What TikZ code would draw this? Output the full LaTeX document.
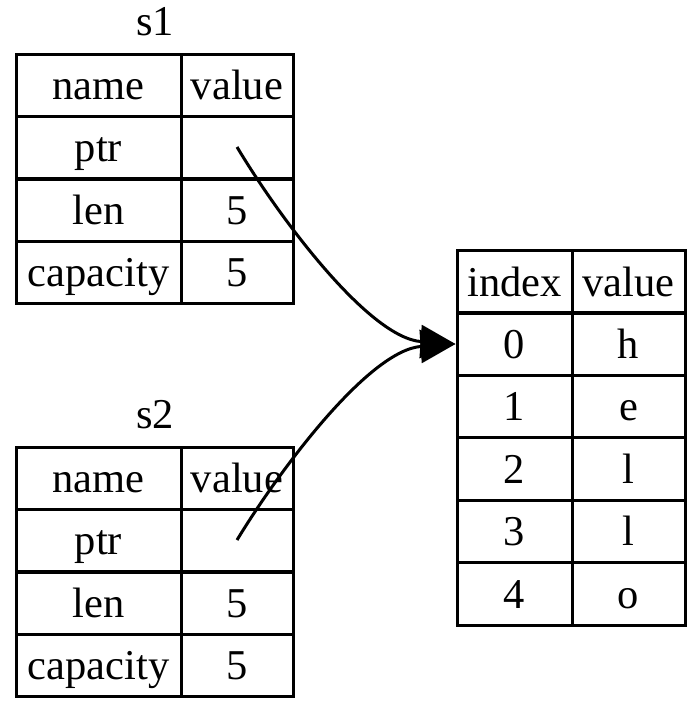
\documentclass[tikz,border=0pt]{standalone}
\usepackage{fontspec}
\setmainfont{Liberation Serif}
\usetikzlibrary{arrows.meta}
\begin{document}
\begin{tikzpicture}[x=1pt,y=-1pt,
  txt/.style={inner sep=0pt,font=\fontsize{42.5}{50}\selectfont},
  cell/.style={txt,draw,line width=3pt,minimum height=62pt,text height=28pt,text depth=0pt},
  namecol/.style={cell,minimum width=165pt},
  valcol/.style={cell,minimum width=112pt},
  idxcol/.style={cell,minimum width=115pt,minimum height=62.5pt},
  hvcol/.style={cell,minimum width=113pt,minimum height=62.5pt},
  ptrarrow/.style={line width=3pt,-{Triangle[length=35pt,width=33pt]}}]
\useasboundingbox (0,0) rectangle (694,704);
% s1
\node[txt,anchor=base] (t1) at (155,35) {s1};
\node[namecol] (s1n0) at (98.5,85) {name};
\node[valcol]  (s1v0) at (237,85) {value};
\node[namecol] (s1n1) at (98.5,147) {ptr};
\node[valcol]  (s1v1) at (237,147) {};
\node[namecol] (s1n2) at (98.5,210) {len};
\node[valcol]  (s1v2) at (237,210) {5};
\node[namecol] (s1n3) at (98.5,272) {capacity};
\node[valcol]  (s1v3) at (237,272) {5};
% s2
\node[txt,anchor=base] (t2) at (155,428) {s2};
\node[namecol] (s2n0) at (98.5,478) {name};
\node[valcol]  (s2v0) at (237,478) {value};
\node[namecol] (s2n1) at (98.5,540) {ptr};
\node[valcol]  (s2v1) at (237,540) {};
\node[namecol] (s2n2) at (98.5,603) {len};
\node[valcol]  (s2v2) at (237,603) {5};
\node[namecol] (s2n3) at (98.5,665) {capacity};
\node[valcol]  (s2v3) at (237,665) {5};
% heap
\node[idxcol] (hi) at (514.5,282) {index};
\node[hvcol]  (hv) at (628.5,282) {value};
\node[idxcol] (i0) at (514.5,344) {0};
\node[hvcol]  (h0) at (628.5,344) {h};
\node[idxcol] (i1) at (514.5,406.5) {1};
\node[hvcol]  (h1) at (628.5,406.5) {e};
\node[idxcol] (i2) at (514.5,469) {2};
\node[hvcol]  (h2) at (628.5,469) {l};
\node[idxcol] (i3) at (514.5,531.5) {3};
\node[hvcol]  (h3) at (628.5,531.5) {l};
\node[idxcol] (i4) at (514.5,594) {4};
\node[hvcol]  (h4) at (628.5,594) {o};
% pointers
\draw[ptrarrow] (s1v1.center) .. controls (282,222) and (370,338) .. (i0.west);
\draw[ptrarrow] (s2v1.center) .. controls (282,466) and (370,350) .. (i0.west);
\end{tikzpicture}
\end{document}
